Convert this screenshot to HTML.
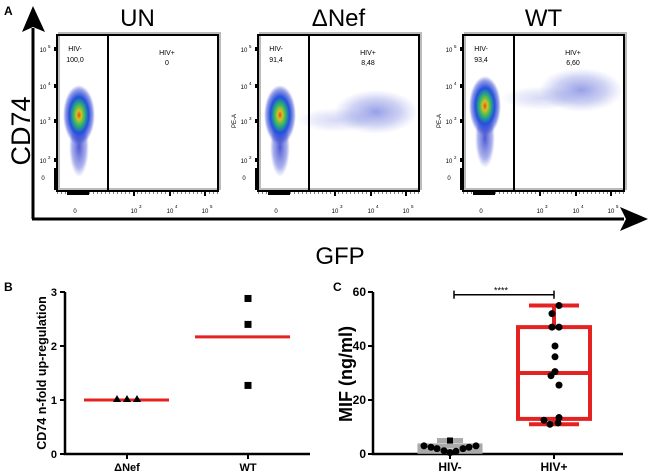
<!DOCTYPE html>
<html><head><meta charset="utf-8"><style>
html,body{margin:0;padding:0;background:#fff;}
svg{display:block;font-family:"Liberation Sans",sans-serif;}
</style></head><body>
<svg width="649" height="474" viewBox="0 0 649 474">
<defs>
<radialGradient id="dens">
<stop offset="0" stop-color="#e04a1a"/>
<stop offset="0.15" stop-color="#d8c020"/>
<stop offset="0.35" stop-color="#30b868"/>
<stop offset="0.6" stop-color="#2050e0"/>
<stop offset="0.85" stop-color="#3040d0" stop-opacity="0.5"/>
<stop offset="1" stop-color="#4050d0" stop-opacity="0"/>
</radialGradient>
<radialGradient id="blue">
<stop offset="0" stop-color="#3040d0" stop-opacity="0.5"/>
<stop offset="0.6" stop-color="#4050d0" stop-opacity="0.25"/>
<stop offset="1" stop-color="#6070e0" stop-opacity="0"/>
</radialGradient>
<radialGradient id="tail">
<stop offset="0" stop-color="#2030c8" stop-opacity="0.8"/>
<stop offset="0.7" stop-color="#3040d0" stop-opacity="0.4"/>
<stop offset="1" stop-color="#5060e0" stop-opacity="0"/>
</radialGradient>
</defs>

<!-- Panel A -->
<text x="4" y="15" font-size="12" font-weight="bold">A</text>
<line x1="33" y1="219" x2="33" y2="28" stroke="#000" stroke-width="3"/>
<polygon points="33,6 22,32 33,27 45,32" fill="#000"/>
<line x1="32" y1="219" x2="624" y2="219" stroke="#000" stroke-width="3"/>
<polygon points="648,219 620,207 626,219 620,231" fill="#000"/>
<text transform="translate(30,131) rotate(-90)" font-size="27" text-anchor="middle">CD74</text>
<text x="340" y="264" font-size="24" text-anchor="middle">GFP</text>
<g id="plots"></g>

<!-- Panel B -->
<text x="4" y="291" font-size="12" font-weight="bold">B</text>
<g id="panelB"></g>

<!-- Panel C -->
<text x="333" y="291" font-size="12" font-weight="bold">C</text>
<g id="panelC"></g>
</svg>
<script>
const NS="http://www.w3.org/2000/svg";
function mk(tag,attrs,parent,txt){const e=document.createElementNS(NS,tag);for(const k in attrs)e.setAttribute(k,attrs[k]);if(txt!==undefined)e.textContent=txt;parent.appendChild(e);return e;}

// ---------- Panel A data ----------
const flowTitles=["UN","\u0394Nef","WT"];
const hivNegPct=["100,0","91,4","93,4"];
const hivPosPct=["0","8,48","6,60"];
const flowLefts=[57,258,463];
const plots=document.getElementById('plots');
flowLefts.forEach((L,i)=>{
  const g=mk('g',{},plots);
  
  
  const W=161,T=35,B=191;
  let t=mk('text',{x:L+W/2,y:26,'font-size':24,'text-anchor':'middle'},g,flowTitles[i]);
  
  
  mk('rect',{x:L+2,y:T-2,width:W,height:B-T,fill:'none',stroke:'#bbb','stroke-width':2},g);
  if(i>0){
    const hy=i==1?112:90, hx=i==1?L+118:L+118;
    mk('ellipse',{cx:hx,cy:hy,rx:42,ry:22,fill:'url(#blue)'},g);
    mk('ellipse',{cx:L+78,cy:hy+8,rx:40,ry:12,fill:'url(#blue)',opacity:0.4},g);
  }
  const cx=L+22, cy=i==2?106:115;
  mk('ellipse',{cx:cx,cy:cy+32,rx:10,ry:30,fill:'url(#tail)'},g);
  mk('ellipse',{cx:cx,cy:cy,rx:16,ry:30,fill:'url(#dens)'},g);
  mk('rect',{x:L,y:T,width:W,height:B-T,fill:'none',stroke:'#000','stroke-width':2},g);
  const gx=L+51;
  let gl=mk('line',{x1:gx,y1:T,x2:gx,y2:B,stroke:'#000','stroke-width':2},g);
  
  
  let a=mk('text',{x:L+18,y:51,'font-size':7,'text-anchor':'middle'},g,'HIV-');
  
  
  let b=mk('text',{x:L+18,y:62,'font-size':7,'text-anchor':'middle'},g,hivNegPct[i]);
  
  
  let c=mk('text',{x:L+110,y:55,'font-size':7,'text-anchor':'middle'},g,'HIV+');
  
  
  let d=mk('text',{x:L+110,y:65,'font-size':7,'text-anchor':'middle'},g,hivPosPct[i]);
  
  
  [[49,'5'],[86,'4'],[121,'3'],[160,'2']].forEach(([y,e])=>{
    const tt=mk('text',{x:L-14,y:y+3,'font-size':6,'text-anchor':'middle'},g,'10');
    
    
    mk('text',{x:L-9,y:y-1,'font-size':4.5},g,e);
    mk('rect',{x:L-3,y:y-2,width:3,height:4,fill:'#000'},g);
  });
  mk('text',{x:L-14,y:180,'font-size':6,'text-anchor':'middle'},g,'0');
  mk('rect',{x:L-3,y:168,width:3,height:22,fill:'#000'},g);
  if(i>0) mk('text',{transform:`translate(${L-22},121) rotate(-90)`,'font-size':6,'text-anchor':'middle'},g,'PE-A');
  mk('text',{x:L+18,y:213,'font-size':6,'text-anchor':'middle'},g,'0');
  [[77,'3'],[113,'4'],[148,'5']].forEach(([dx,e])=>{
    const tt=mk('text',{x:L+dx,y:213,'font-size':6,'text-anchor':'middle'},g,'10');
    
    
    mk('text',{x:L+dx+5,y:208,'font-size':4.5},g,e);
    mk('rect',{x:L+dx-1,y:192,width:2,height:4,fill:'#000'},g);
  });
  mk('rect',{x:L+10,y:192,width:22,height:3,fill:'#000'},g);
  mk('line',{x1:L,y1:193,x2:L+W,y2:193,stroke:'#000','stroke-width':1,'stroke-dasharray':'1 3'},g);
});

// ---------- Panel B data ----------
const bCategories=["\u0394Nef","WT"];
const bMeans=[1.0,2.17];
const bDnefValues=[1.0,1.0,1.0];
const bWtValues=[2.88,2.4,1.27];
const bTicks=[0,1,2,3];
(function(){
  const P=document.getElementById('panelB');
  const X0=65,X1=310,Y0=454,Y3=292;
  const y=v=>Y0-(v/3)*(Y0-Y3);
  const xc=[127,248];
  let ax=mk('path',{d:`M${X0},${Y3} V${Y0} H${X1}`,fill:'none',stroke:'#000','stroke-width':2.5},P);
  
  
  bTicks.forEach(t=>{
    mk('line',{x1:X0-5,y1:y(t),x2:X0,y2:y(t),stroke:'#000','stroke-width':2},P);
    const l=mk('text',{x:X0-8,y:y(t)+4,'font-size':11,'font-weight':'bold','text-anchor':'end'},P,t);
    
    
  });
  bCategories.forEach((c,i)=>{
    mk('line',{x1:xc[i],y1:Y0,x2:xc[i],y2:Y0+5,stroke:'#000','stroke-width':2},P);
    const l=mk('text',{x:xc[i],y:Y0+17,'font-size':11,'font-weight':'bold','text-anchor':'middle'},P,c);
    
    
    const m=mk('line',{x1:xc[i]-(i?53:43),y1:y(bMeans[i]),x2:xc[i]+42,y2:y(bMeans[i]),stroke:'#e52222','stroke-width':3},P);
    
    
  });
  bDnefValues.forEach((v,j)=>{
    const px=xc[0]+(j-1)*10,py=y(v);
    const p=mk('polygon',{points:`${px},${py-5} ${px-4},${py+2} ${px+4},${py+2}`,fill:'#000'},P);
    
    
  });
  bWtValues.forEach(v=>{
    const p=mk('rect',{x:xc[1]-3.5,y:y(v)-3.5,width:7,height:7,fill:'#000'},P);
    
    
  });
  const t=mk('text',{transform:'translate(46,373) rotate(-90)','font-size':12.5,'font-weight':'bold','text-anchor':'middle'},P,'CD74 n-fold up-regulation');
  
  
})();

// ---------- Panel C data ----------
const cCategories=["HIV-","HIV+"];
const cNegValues=[3,2.5,2,1.2,0.5,1,2,2.5,3];
const cNegOffsets=[-26,-19,-13,-6,0,6,13,19,26];
const cNegMax=5;
const cPosValues=[55,52,47,47,40,36,30.5,29,25.5,13.5,12.5,11.5,11];
const cPosOffsets=[5,-2,-2,5,1,1,1,-3,5,5,-10,4,-4];
const cPosBox=[11,13,30,47,55];
const cNegBox=[0,1,2,3,5];
const cTicks=[0,20,40,60];
(function(){
  const P=document.getElementById('panelC');
  const X0=373,X1=623,Y0=454,Y60=292;
  const y=v=>Y0-(v/60)*(Y0-Y60);
  const xc=[450,554];
  let ax=mk('path',{d:`M${X0},${Y60} V${Y0} H${X1}`,fill:'none',stroke:'#000','stroke-width':2.5},P);
  
  
  cTicks.forEach(t=>{
    mk('line',{x1:X0-5,y1:y(t),x2:X0,y2:y(t),stroke:'#000','stroke-width':2},P);
    const l=mk('text',{x:X0-7,y:y(t)+4,'font-size':12,'font-weight':'bold','text-anchor':'end'},P,t);
    
    
  });
  cCategories.forEach((c,i)=>{
    mk('line',{x1:xc[i],y1:Y0,x2:xc[i],y2:Y0+5,stroke:'#000','stroke-width':2},P);
    const l=mk('text',{x:xc[i],y:Y0+17,'font-size':12,'font-weight':'bold','text-anchor':'middle'},P,c);
    
    
  });
  const [n0,n1,n2,n3,n4]=cNegBox;
  const gb=mk('g',{stroke:'#aaa','stroke-width':5,fill:'none'},P);
  
  
  mk('rect',{x:xc[0]-30,y:y(n3),width:60,height:y(n1)-y(n3)},gb);
  mk('line',{x1:xc[0],y1:y(n4),x2:xc[0],y2:y(n3)},gb);
  mk('line',{x1:xc[0]-13,y1:y(n4),x2:xc[0]+13,y2:y(n4)},gb);
  const [p0,p1,p2,p3,p4]=cPosBox;
  const rb=mk('g',{stroke:'#e52222','stroke-width':4,fill:'none'},P);
  
  
  mk('rect',{x:xc[1]-36,y:y(p3),width:72,height:y(p1)-y(p3)},rb);
  mk('line',{x1:xc[1]-36,y1:y(p2),x2:xc[1]+36,y2:y(p2)},rb);
  mk('line',{x1:xc[1],y1:y(p4),x2:xc[1],y2:y(p3)},rb);
  mk('line',{x1:xc[1],y1:y(p1),x2:xc[1],y2:y(p0)},rb);
  mk('line',{x1:xc[1]-25,y1:y(p4),x2:xc[1]+25,y2:y(p4)},rb);
  mk('line',{x1:xc[1]-25,y1:y(p0),x2:xc[1]+25,y2:y(p0)},rb);
  cNegValues.forEach((v,j)=>{
    const c=mk('circle',{cx:xc[0]+cNegOffsets[j],cy:y(v),r:3.5,fill:'#000'},P);
    
    
  });
  const sq=mk('rect',{x:xc[0]-3,y:y(cNegMax)-3,width:6,height:6,fill:'#000'},P);
  
  
  cPosValues.forEach((v,j)=>{
    const c=mk('circle',{cx:xc[1]+cPosOffsets[j],cy:y(v),r:3.5,fill:'#000'},P);
    
    
  });
  const bx0=xc[0]+4,bx1=xc[1];
  const sg=mk('path',{d:`M${bx0},${y(57.5)} V${y(60.5)} M${bx0},${y(59)} H${bx1} M${bx1},${y(57.5)} V${y(60.5)}`,stroke:'#000','stroke-width':1.5,fill:'none'},P);
  
  
  const st=mk('text',{x:(bx0+bx1)/2-3,y:y(59)-1,'font-size':9,'text-anchor':'middle'},P,'****');
  
  
  const t=mk('text',{transform:'translate(352,374) rotate(-90)','font-size':18,'font-weight':'bold','text-anchor':'middle'},P,'MIF (ng/ml)');
  
  
})();
</script>
</body></html>
